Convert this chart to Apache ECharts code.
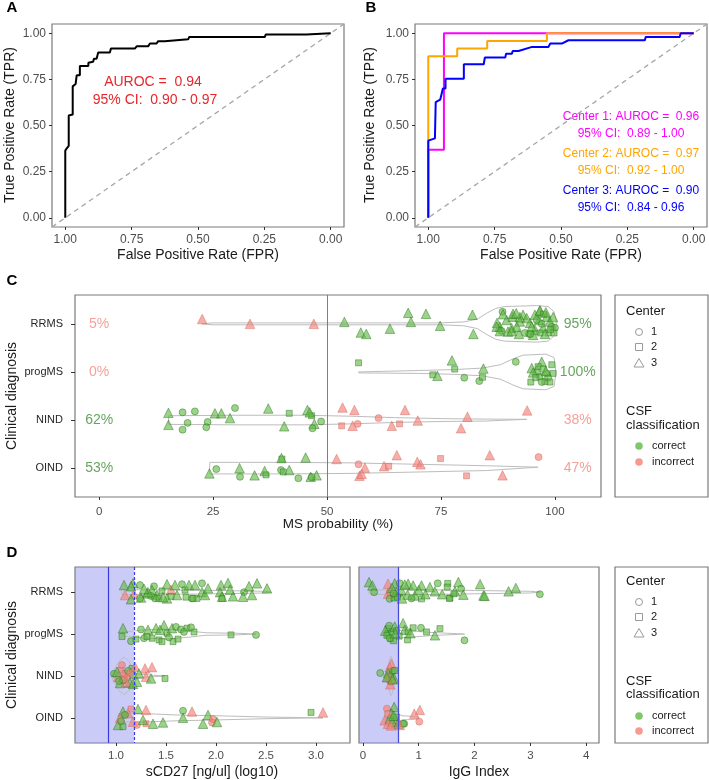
<!DOCTYPE html>
<html>
<head>
<meta charset="utf-8">
<script src="https://cdn.jsdelivr.net/npm/echarts@6/dist/echarts.min.js"></script>
<style>html,body{margin:0;padding:0;background:#fff}#main{width:709px;height:780px}</style>
</head>
<body>
<div id="main"></div>
<script>
// ---- data ----
var diagnoses = ['RRMS', 'progMS', 'NIND', 'OIND'];
var rocTicks = [0, 0.25, 0.5, 0.75, 1];
var probTicks = [0, 25, 50, 75, 100];
var cd27Ticks = [1.0, 1.5, 2.0, 2.5, 3.0];
var iggTicks = [0, 1, 2, 3, 4];

// ROC curves: [FPR axis value, TPR]
var rocAll = [[1,0],[1,0.364],[0.995,0.375],[0.987,0.39],[0.987,0.554],[0.972,0.56],[0.972,0.712],[0.961,0.725],[0.957,0.772],[0.945,0.772],[0.945,0.822],[0.913,0.822],[0.913,0.84],[0.895,0.845],[0.892,0.862],[0.882,0.862],[0.876,0.895],[0.832,0.895],[0.828,0.917],[0.738,0.917],[0.731,0.929],[0.688,0.929],[0.681,0.944],[0.656,0.944],[0.65,0.957],[0.625,0.957],[0.621,0.967],[0.537,0.967],[0.533,0.98],[0.248,0.98],[0.245,0.993],[0.092,0.993],[0.085,1],[0,1]];
var rocCenter1 = [[1,0],[1,0.368],[0.941,0.368],[0.941,1],[0,1]];
var rocCenter2 = [[1,0],[1,0.875],[0.891,0.875],[0.891,0.917],[0.778,0.917],[0.778,0.958],[0.553,0.958],[0.553,1],[0,1]];
var rocCenter3 = [[1,0],[1,0.418],[0.975,0.43],[0.972,0.627],[0.955,0.64],[0.945,0.7],[0.935,0.7],[0.935,0.754],[0.866,0.754],[0.866,0.832],[0.791,0.832],[0.787,0.868],[0.71,0.868],[0.707,0.889],[0.685,0.889],[0.682,0.904],[0.66,0.904],[0.609,0.926],[0.547,0.926],[0.541,0.944],[0.497,0.944],[0.472,0.962],[0.184,0.962],[0.181,0.98],[0.053,0.98],[0.049,1],[0,1]];
var aurocAll = ['AUROC =  0.94', '95% CI:  0.90 - 0.97'];
var aurocCenters = ['Center 1: AUROC =  0.96', '95% CI:  0.89 - 1.00', 'Center 2: AUROC =  0.97', '95% CI:  0.92 - 1.00', 'Center 3: AUROC =  0.90', '95% CI:  0.84 - 0.96'];

var pctLeft = ['5%', '0%', '62%', '53%'];
var pctRight = ['95%', '100%', '38%', '47%'];
var leftIsCorrect = [0, 0, 1, 1];
var probCut = 50;
var cd27Cut = 1.18, cd27Low = 0.92;
var iggCut = 0.63;

// points: [value, vertical jitter, center (1,2,3), correct (1/0)]
var probRRMS = [[22.6,-0.1,3,0],[33.1,0,3,0],[47.1,0,3,0],[53.8,-0.04,3,1],[57.4,0.18,3,1],[58.6,0.21,3,1],[63.8,0.1,3,1],[67.8,-0.23,3,1],[68.4,-0.04,3,1],[71.7,-0.21,3,1],[74.8,0.04,3,1],[81.9,-0.19,3,1],[82.1,0.21,3,1],[88.5,-0.25,1,1],[89.4,-0.08,3,1],[90.7,-0.15,3,1],[90.5,0.09,3,1],[92.1,0.21,3,1],[87.9,0.06,3,1],[87.3,-0.02,3,1],[88.3,0.15,1,1],[93,-0.19,3,1],[94.5,-0.02,3,1],[94.3,0.21,1,1],[95.6,-0.19,3,1],[96.7,-0.27,3,1],[96.5,-0.08,3,1],[98.2,-0.15,3,1],[98.9,-0.05,3,1],[99.3,0.06,1,1],[97.4,0.08,3,1],[95.6,0.12,3,1],[98.5,0.19,2,1],[97.8,0.21,3,1],[96.7,0.19,2,1],[100,0.08,1,1],[92.3,-0.05,3,1],[91.6,0.06,3,1],[96,-0.08,1,1],[93.8,-0.12,3,1],[94.9,0.06,3,1],[97.1,0,1,1],[99.6,-0.14,3,1],[99.8,0.19,2,1],[93.4,0.19,1,1],[95.2,0.23,3,1],[89.7,0.16,3,1],[88.6,-0.2,3,1],[90.8,-0.21,3,1],[92.3,-0.14,3,1],[96.7,-0.28,3,1],[87.2,0.06,3,1],[87.9,0.15,3,1],[90.5,0.15,3,1],[94.6,0.21,1,1],[97.5,-0.2,2,1],[99,0.12,2,1],[98,-0.24,3,1],[91.5,-0.22,3,1]];
var probProg = [[56.9,-0.19,2,1],[77.4,-0.24,3,1],[78,-0.06,2,1],[84.3,-0.07,3,1],[91.4,-0.21,1,1],[73.2,0.06,2,1],[74.2,0.08,3,1],[80.1,0.12,1,1],[83.4,0.19,1,1],[84.1,0.11,2,1],[94.7,0.21,2,1],[94.9,-0.08,3,1],[96,-0.04,3,1],[97.1,-0.21,3,1],[96.7,0.1,2,1],[97.8,0.2,2,1],[98.2,0.03,1,1],[99.3,-0.15,2,1],[99.6,0.03,2,1],[98.5,0.12,1,1],[95.2,0.01,3,1],[96.3,-0.11,2,1],[97.4,-0.06,1,1],[95.8,0.12,2,1],[98,-0.02,3,1],[98.9,0.21,2,1],[97.1,0.21,1,1]];
var probNIND = [[15.2,-0.15,3,1],[18.3,-0.16,1,1],[21,-0.18,1,1],[25.4,-0.14,3,1],[26.8,-0.14,3,1],[29.8,-0.25,1,1],[28.7,-0.04,3,1],[37.1,-0.24,3,1],[41.7,-0.14,2,1],[45.7,-0.21,3,1],[46.6,-0.09,2,1],[48.7,0.03,1,1],[15.2,0.1,3,1],[19.4,0.06,1,1],[18.3,0.2,1,1],[23.8,0.04,1,1],[23.5,0.15,1,1],[40.6,0.13,3,1],[47.2,0.08,3,1],[46.8,0.17,1,1],[46.2,-0.16,3,1],[53.4,-0.26,3,0],[56,-0.21,3,0],[53.2,0.12,2,0],[55.6,0.12,3,0],[56.7,0.08,1,0],[67.1,-0.21,3,0],[93.9,-0.2,3,0],[80.8,-0.07,3,0],[61.3,-0.04,1,0],[69.9,0.01,3,0],[65.9,0.08,2,0],[64.2,0.12,3,0],[79.4,0.17,3,0]];
var probOIND = [[24.2,0.11,3,1],[25.7,0.02,1,1],[30.8,0,3,1],[30.9,0.18,1,1],[34.1,0.15,3,1],[36.3,0.06,3,1],[36.6,0.14,2,1],[40.1,-0.19,2,1],[40,-0.21,3,1],[39.9,0.04,1,1],[40.4,0.08,2,1],[41.7,0.04,3,1],[43.7,0.21,1,1],[45.3,-0.22,3,1],[46.4,0.18,3,1],[47.7,0.15,3,1],[46.6,0.19,1,1],[52.1,-0.19,3,0],[56.9,-0.08,1,0],[57.1,0.16,3,0],[58.3,-0.01,3,0],[57.6,0.12,3,0],[65.3,-0.27,3,0],[62.5,-0.04,3,0],[63.5,-0.04,2,0],[69.8,-0.13,3,0],[70.5,-0.08,3,0],[74.9,-0.2,2,0],[80.6,0.16,2,0],[85.7,-0.27,3,0],[88.5,0.15,3,0],[96.4,-0.23,1,0]];

var cd27RRMS = [[1.08,-0.17,3,1],[1.17,-0.21,3,1],[1.24,-0.17,1,1],[1.09,0.07,3,0],[1.18,0.05,3,0],[1.15,0.17,3,1],[1.25,0.13,3,1],[1.31,0.03,3,1],[1.38,-0.14,1,1],[1.36,-0.05,3,1],[1.41,0.07,3,1],[1.46,-0.03,2,1],[1.39,0.15,1,1],[1.51,-0.19,3,1],[1.55,-0.06,3,0],[1.59,-0.17,3,1],[1.66,-0.19,1,1],[1.61,0.07,3,1],[1.51,0.15,3,1],[1.69,-0.05,2,1],[1.73,-0.17,3,1],[1.76,0.15,1,1],[1.81,0.15,2,1],[1.79,-0.17,3,1],[1.86,-0.21,1,1],[1.86,0,3,1],[1.89,0.07,3,1],[2.05,-0.17,3,1],[2.12,-0.22,3,1],[2.04,0,3,1],[2.06,0.11,3,1],[2.17,0.1,3,1],[2.28,0,1,1],[2.33,-0.14,3,1],[2.41,-0.21,3,1],[2.36,0.07,3,1],[2.51,-0.09,3,1],[1.77,0.15,2,1],[2.06,0.15,2,1],[1.43,0.15,2,1],[1.35,0.09,1,1],[1.15,-0.14,3,1],[1.32,0,3,1],[1.92,-0.09,3,1],[2.14,-0.06,3,1],[2.27,0.11,3,1],[1.24,0.15,1,1],[1.55,0.1,2,1],[1.47,0.12,3,1],[1.7,0.12,2,1],[1.28,-0.08,3,1]];
var cd27Prog = [[1.07,-0.14,3,1],[1.06,0.06,2,1],[1.15,0.17,1,1],[1.25,-0.11,1,1],[1.32,-0.1,3,1],[1.28,0.1,1,1],[1.36,0.1,2,1],[1.4,-0.14,3,1],[1.43,0.14,2,1],[1.48,-0.21,3,1],[1.51,-0.02,2,1],[1.56,-0.14,3,1],[1.57,0.18,2,1],[1.6,-0.17,1,1],[1.65,-0.11,1,1],[1.71,-0.14,2,1],[1.78,-0.05,2,1],[1.75,-0.16,1,1],[2.15,0.02,2,1],[2.4,0.02,1,1],[1.31,0.06,2,1],[1.46,0.18,2,1],[1.68,-0.05,1,1],[1.44,-0.1,3,1],[1.2,0.12,2,1],[1.53,0.08,1,1],[1.62,0.12,2,1]];
var cd27NIND = [[0.98,-0.05,1,1],[1.05,-0.14,2,0],[1.02,0.02,3,0],[1.09,-0.06,2,0],[1.11,0.03,1,0],[1.04,0.17,3,1],[1.14,0.16,3,1],[1.1,0.14,3,0],[1.17,-0.02,1,1],[1.16,-0.18,2,1],[1.19,-0.22,3,0],[1.29,-0.18,3,0],[1.36,-0.21,3,0],[1.23,-0.06,3,1],[1.3,0.02,3,0],[1.35,0.06,3,1],[1.49,0.06,2,1],[1.21,0.14,3,1],[1.07,0.11,1,1],[1.01,-0.1,3,1],[1.06,-0.26,1,0],[1.12,-0.12,1,1],[1.17,0.19,3,1],[1.14,-0.07,1,0],[1.08,0.08,2,0],[1.03,0.12,1,1]];
var cd27OIND = [[1.07,-0.15,3,1],[1.15,-0.21,2,0],[1.12,-0.11,3,0],[1.22,-0.21,3,1],[1.3,-0.19,3,0],[1.67,-0.17,1,1],[1.76,-0.15,3,0],[1.92,-0.07,3,1],[2.95,-0.13,2,1],[3.07,-0.13,3,0],[1.67,0,3,1],[1.87,0.14,3,1],[1.96,0.11,1,0],[1.97,0.03,1,0],[2.01,0.1,3,1],[1.02,0.17,3,1],[1.07,0.21,2,1],[1.04,0,3,0],[1.17,0.09,3,0],[1.21,0.17,1,0],[1.3,0.14,2,0],[1.37,0.14,3,1],[1.47,0.11,3,1],[1.27,0.05,3,1],[1.09,-0.07,1,1],[1.05,0.08,1,1]];

var iggRRMS = [[0.11,-0.24,3,1],[0.17,-0.16,3,1],[0.2,0,1,1],[0.45,-0.2,3,0],[0.45,0.04,3,0],[0.48,0,1,0],[0.48,0.16,1,1],[0.56,0.14,2,1],[0.57,-0.21,3,1],[0.66,-0.21,1,1],[0.6,0,3,1],[0.69,-0.04,3,1],[0.81,-0.2,3,1],[0.9,-0.16,3,1],[0.8,0.06,3,1],[0.93,0.08,3,1],[1.05,-0.16,3,1],[1.05,0.16,2,1],[1.2,-0.12,3,1],[1.34,-0.21,1,1],[1.29,-0.02,3,1],[1.52,-0.21,2,1],[1.42,0.05,3,1],[1.56,0.14,2,1],[1.71,-0.24,3,1],[1.76,-0.08,1,1],[1.8,0.06,3,1],[1.65,-0.02,3,1],[2.1,-0.19,3,1],[2.16,0.08,3,1],[2.61,-0.02,3,1],[2.74,-0.1,3,1],[3.17,0.05,1,1],[1.51,-0.12,2,1],[1.55,0.15,2,1],[0.87,0.15,1,1],[2.18,0.09,3,1],[1.63,0.04,2,1],[0.52,-0.1,3,1],[0.62,0.12,2,1],[0.75,-0.18,3,1],[1,-0.05,3,1],[0.7,0.15,3,1],[1.12,0.05,3,1],[0.55,0.03,1,1]];
var iggProg = [[0.45,-0.13,2,1],[0.45,-0.01,2,1],[0.52,-0.05,1,1],[0.57,-0.18,3,1],[0.5,0.11,2,1],[0.6,-0.08,1,1],[0.72,-0.26,3,1],[0.75,-0.1,3,1],[0.81,-0.05,2,1],[0.8,0.14,2,1],[0.9,-0.15,2,1],[1.04,-0.15,1,1],[1.14,-0.05,2,1],[1.38,-0.13,2,1],[1.29,0.03,3,1],[1.82,0.15,1,1],[0.4,-0.08,3,1],[0.43,0.03,2,1],[0.47,-0.2,1,1],[0.55,0.16,2,1],[0.65,0.05,2,1],[0.85,-0.02,3,1],[0.48,0.1,1,1],[0.58,-0.02,3,1]];
var iggNIND = [[0.31,-0.07,1,1],[0.48,-0.21,3,0],[0.45,-0.07,3,1],[0.5,-0.02,3,1],[0.54,-0.12,1,1],[0.45,0.02,3,0],[0.48,0.1,1,0],[0.56,0.06,3,1],[0.51,-0.29,3,0],[0.51,0.14,1,0],[0.43,0.03,3,1],[0.57,-0.13,2,1],[0.49,0.2,3,0],[0.53,0.08,3,1]];
var iggOIND = [[0.43,-0.22,1,0],[0.56,-0.26,3,1],[0.51,-0.1,3,1],[0.39,0.06,3,0],[0.48,0.02,3,1],[0.6,0.1,3,0],[0.74,0.14,1,1],[1.01,0.09,1,0],[1.02,-0.19,3,0],[0.92,-0.1,3,0],[0.72,0.14,1,1],[0.45,-0.1,1,0],[0.53,0.1,3,1],[0.45,0.14,3,0],[0.63,0.14,3,1],[0.6,-0.02,2,1],[0.5,0.18,3,0],[0.55,-0.05,3,1],[0.66,0.17,3,0]];

// violin outlines: [value, half width]
var vProbRRMS = [[22.5,0],[25,0.02],[75,0.02],[80,0.04],[83,0.1],[85,0.22],[87,0.32],[89,0.36],[96,0.38],[98.5,0.36],[99.8,0.25],[100.2,0.1],[100.3,0]];
var vProbProg = [[56.9,0],[57,0.02],[70,0.03],[78,0.05],[84,0.08],[88,0.15],[91,0.28],[93,0.35],[98,0.37],[99.8,0.3],[100.1,0.1],[100.2,0]];
var vProbNIND = [[15.2,0],[15.3,0.09],[30,0.1],[45,0.1],[55,0.08],[65,0.05],[75,0.03],[85,0.02],[93.8,0.015],[93.9,0]];
var vProbOIND = [[24.2,0],[24.3,0.12],[40,0.12],[55,0.11],[70,0.08],[85,0.05],[96.3,0.02],[96.4,0]];
var vCd27RRMS = [[1.05,0],[1.06,0.06],[1.6,0.05],[2,0.04],[2.5,0.02],[2.55,0]];
var vCd27Prog = [[1.06,0],[1.07,0.05],[1.3,0.1],[1.5,0.12],[1.7,0.08],[1.9,0.03],[2.2,0.02],[2.4,0]];
var vCd27NIND = [[0.95,0],[0.98,0.15],[1.03,0.35],[1.08,0.45],[1.13,0.35],[1.17,0.15],[1.2,0.05],[1.3,0.03],[1.49,0]];
var vCd27OIND = [[1.02,0],[1.03,0.1],[1.3,0.1],[1.6,0.07],[2,0.05],[2.5,0.02],[3.07,0]];
var vIggRRMS = [[0.1,0],[0.12,0.05],[1,0.06],[2,0.04],[3,0.02],[3.17,0]];
var vIggProg = [[0.4,0],[0.42,0.08],[0.6,0.1],[0.9,0.07],[1.2,0.04],[1.5,0.02],[1.82,0]];
var vIggNIND = [[0.42,0],[0.45,0.2],[0.48,0.4],[0.5,0.47],[0.53,0.4],[0.56,0.2],[0.59,0]];
var vIggOIND = [[0.39,0],[0.4,0.15],[0.5,0.2],[0.6,0.12],[0.7,0.05],[0.85,0.04],[1,0.03],[1.02,0]];

// ---- styling ----
var FONT = '"Liberation Sans", Arial, sans-serif';
var GREEN = 'rgba(94,185,66,0.78)', GREEN_EDGE = 'rgba(35,105,25,0.9)';
var RED = 'rgba(245,130,120,0.82)', RED_EDGE = 'rgba(200,95,90,0.85)';
var GREEN_TXT = '#3f8f35', RED_TXT = '#f08a80';
var shapes = ['circle', 'rect', 'triangle'];
var sizes = [7, 6, 9.5];

var chart = echarts.init(document.getElementById('main'));

function points(list, row) {
  return list.map(function (p) {
    return {
      value: [p[0], row + p[1]],
      symbol: shapes[p[2] - 1],
      symbolSize: sizes[p[2] - 1],
      itemStyle: p[3] ? {color: GREEN, borderColor: GREEN_EDGE, borderWidth: 0.6}
                      : {color: RED, borderColor: RED_EDGE, borderWidth: 0.6}
    };
  });
}
function violin(outline, row) {
  var top = outline.map(function (p) { return [p[0], row - p[1]]; });
  var bottom = outline.slice().reverse().map(function (p) { return [p[0], row + p[1]]; });
  return top.concat(bottom);
}

function numAxis(gi, min, max, ticks, fmt, o) {
  o = o || {};
  return {
    type: 'value', gridIndex: gi, min: min, max: max, inverse: !!o.inverse,
    axisLine: {show: false, onZero: false},
    axisTick: {show: o.noTick ? false : true, length: o.tickLen || 3, lineStyle: {color: '#333', width: 1}, customValues: ticks},
    axisLabel: {show: o.noLabel ? false : true, customValues: ticks, formatter: fmt, color: o.labelColor || '#4d4d4d',
      fontSize: o.fontSize || 12, margin: o.margin || 6, fontFamily: FONT},
    splitLine: {show: false}
  };
}
function fmt2(v) { return v.toFixed(2); }
function fmt1(v) { return v.toFixed(1); }
function fmt0(v) { return String(Math.round(v)); }
function fmtDiag(v) { return diagnoses[Math.round(v) - 1]; }

var gridBase = {show: true, borderColor: '#7a7a7a', borderWidth: 1.2, containLabel: false};
var grids = [
  Object.assign({left: 52, top: 24, width: 292, height: 203}, gridBase),
  Object.assign({left: 415, top: 24, width: 292, height: 203}, gridBase),
  Object.assign({left: 75, top: 295, width: 526, height: 202}, gridBase),
  Object.assign({left: 75, top: 567, width: 275, height: 176}, gridBase),
  Object.assign({left: 359, top: 567, width: 240, height: 176}, gridBase)
];

var xAxes = [
  numAxis(0, -0.05, 1.05, rocTicks, fmt2, {inverse: true, margin: 7}),
  numAxis(1, -0.05, 1.05, rocTicks, fmt2, {inverse: true, margin: 7}),
  numAxis(2, -5.3, 110.1, probTicks, fmt0, {margin: 9, fontSize: 11.5}),
  numAxis(3, 0.59, 3.34, cd27Ticks, fmt1, {margin: 7, fontSize: 11.5}),
  numAxis(4, -0.07, 4.23, iggTicks, fmt0, {margin: 7, fontSize: 11.5})
];
var catOpts = {inverse: true, margin: 12, tickLen: 4, fontSize: 11, labelColor: '#262626'};
var yAxes = [
  numAxis(0, -0.05, 1.05, rocTicks, fmt2, {margin: 6}),
  numAxis(1, -0.05, 1.05, rocTicks, fmt2, {margin: 6}),
  numAxis(2, 0.4, 4.6, [1, 2, 3, 4], fmtDiag, catOpts),
  numAxis(3, 0.4, 4.6, [1, 2, 3, 4], fmtDiag, catOpts),
  numAxis(4, 0.4, 4.6, [1, 2, 3, 4], fmtDiag, {inverse: true, noTick: true, noLabel: true})
];

var series = [];
function lineS(gi, data, color, width, extra) {
  var s = {
    type: 'line', xAxisIndex: gi, yAxisIndex: gi, data: data, showSymbol: false, symbol: 'none',
    silent: true, lineStyle: {color: color, width: width}, z: 2
  };
  return Object.assign(s, extra || {});
}
// diagonal references
[0, 1].forEach(function (gi) {
  series.push(lineS(gi, [[1.05, -0.05], [-0.05, 1.05]], '#a6a6a6', 1.3, {lineStyle: {color: '#a6a6a6', width: 1.3, type: [5, 4]}}));
});
series.push(lineS(0, rocAll, '#000', 2));
series.push(lineS(1, rocCenter1, '#ff00ff', 2));
series.push(lineS(1, rocCenter2, '#ffa500', 2));
series.push(lineS(1, rocCenter3, '#0000ff', 2));

function panel(gi, groups, outlines, marks) {
  outlines.forEach(function (o, i) {
    var s = lineS(gi, violin(o, i + 1), '#bdbdbd', 1);
    if (i === 0 && marks) Object.assign(s, marks);
    series.push(s);
  });
  var data = [];
  groups.forEach(function (g, i) { data = data.concat(points(g, i + 1)); });
  series.push({type: 'scatter', xAxisIndex: gi, yAxisIndex: gi, data: data, silent: true, z: 3});
}

panel(2, [probRRMS, probProg, probNIND, probOIND], [vProbRRMS, vProbProg, vProbNIND, vProbOIND], {
  markLine: {silent: true, symbol: 'none', label: {show: false},
    lineStyle: {color: '#6e6ef0', width: 1, type: 'solid'}, data: [{xAxis: probCut}]}
});
panel(3, [cd27RRMS, cd27Prog, cd27NIND, cd27OIND], [vCd27RRMS, vCd27Prog, vCd27NIND, vCd27OIND], {
  markArea: {silent: true, label: {show: false}, itemStyle: {color: 'rgba(125,125,235,0.4)'},
    data: [[{xAxis: 0.59}, {xAxis: cd27Cut}]]},
  markLine: {silent: true, symbol: 'none', label: {show: false},
    data: [{xAxis: cd27Low, lineStyle: {color: '#3a3ae0', width: 1.2, type: 'solid'}},
           {xAxis: cd27Cut, lineStyle: {color: '#3a3ae0', width: 1.2, type: [3, 2]}}]}
});
panel(4, [iggRRMS, iggProg, iggNIND, iggOIND], [vIggRRMS, vIggProg, vIggNIND, vIggOIND], {
  markArea: {silent: true, label: {show: false}, itemStyle: {color: 'rgba(125,125,235,0.4)'},
    data: [[{xAxis: -0.07}, {xAxis: iggCut}]]},
  markLine: {silent: true, symbol: 'none', label: {show: false},
    data: [{xAxis: iggCut, lineStyle: {color: '#4a4ad8', width: 1.3, type: 'solid'}}]}
});

// percentage labels in panel C
var pctData = [];
diagnoses.forEach(function (d, i) {
  var lc = leftIsCorrect[i] ? GREEN_TXT : RED_TXT;
  var rc = leftIsCorrect[i] ? RED_TXT : GREEN_TXT;
  pctData.push({value: [0, i + 1], label: {formatter: pctLeft[i], color: lc}});
  pctData.push({value: [105, i + 1], label: {formatter: pctRight[i], color: rc}});
});
series.push({type: 'scatter', xAxisIndex: 2, yAxisIndex: 2, data: pctData, symbolSize: 1, silent: true,
  itemStyle: {color: 'rgba(0,0,0,0)'},
  label: {show: true, position: 'inside', fontSize: 14, fontFamily: FONT}});

// ---- text & legends ----
var graphics = [];
function txt(x, y, s, size, color, o) {
  o = o || {};
  graphics.push({
    type: 'text', x: x, y: y, rotation: o.rot || 0, silent: true,
    style: {text: s, fontSize: size, fontFamily: FONT, fontWeight: o.bold ? 'bold' : 'normal', fill: color,
      align: o.align || 'center', verticalAlign: 'middle', textAlign: o.align || 'center', textVerticalAlign: 'middle'}
  });
}
txt(12, 8, 'A', 15, '#000', {bold: true});
txt(371, 8, 'B', 15, '#000', {bold: true});
txt(12, 281, 'C', 15, '#000', {bold: true});
txt(12, 553, 'D', 15, '#000', {bold: true});

txt(153, 82, aurocAll[0], 14, '#e8262b');
txt(155, 100, aurocAll[1], 14, '#e8262b');
var bColors = ['#ff00ff', '#ff00ff', '#ffa500', '#ffa500', '#0000ff', '#0000ff'];
var bY = [117, 134, 154, 171, 191, 208];
aurocCenters.forEach(function (s, i) { txt(631, bY[i], s, 12, bColors[i]); });

txt(198, 255, 'False Positive Rate (FPR)', 14, '#1a1a1a');
txt(561, 255, 'False Positive Rate (FPR)', 14, '#1a1a1a');
txt(10, 125, 'True Positive Rate (TPR)', 14, '#1a1a1a', {rot: Math.PI / 2});
txt(370, 125, 'True Positive Rate (TPR)', 14, '#1a1a1a', {rot: Math.PI / 2});
txt(338, 524, 'MS probability (%)', 13.5, '#1a1a1a');
txt(12, 396, 'Clinical diagnosis', 14, '#1a1a1a', {rot: Math.PI / 2});
txt(212, 772, 'sCD27 [ng/ul] (log10)', 14, '#1a1a1a');
txt(479, 772, 'IgG Index', 14, '#1a1a1a');
txt(12, 655, 'Clinical diagnosis', 14, '#1a1a1a', {rot: Math.PI / 2});

function legend(top, height, ys) {
  graphics.push({type: 'rect', silent: true, shape: {x: 615, y: top, width: 93, height: height},
    style: {fill: 'none', stroke: '#7a7a7a', lineWidth: 1.2}});
  txt(626, ys[0], 'Center', 13, '#1a1a1a', {align: 'left'});
  var gray = {fill: 'none', stroke: '#9a9a9a', lineWidth: 1};
  graphics.push({type: 'circle', silent: true, shape: {cx: 639, cy: ys[1], r: 3.5}, style: gray});
  graphics.push({type: 'rect', silent: true, shape: {x: 635.5, y: ys[2] - 3.5, width: 7, height: 7}, style: gray});
  graphics.push({type: 'polygon', silent: true, shape: {points: [[639, ys[3] - 4.5], [644, ys[3] + 4], [634, ys[3] + 4]]}, style: gray});
  ['1', '2', '3'].forEach(function (s, i) { txt(651, ys[i + 1], s, 11, '#1a1a1a', {align: 'left'}); });
  txt(626, ys[4], 'CSF', 13, '#1a1a1a', {align: 'left'});
  txt(626, ys[5], 'classification', 13, '#1a1a1a', {align: 'left'});
  graphics.push({type: 'circle', silent: true, shape: {cx: 639, cy: ys[6], r: 3.8}, style: {fill: GREEN}});
  graphics.push({type: 'circle', silent: true, shape: {cx: 639, cy: ys[7], r: 3.8}, style: {fill: RED}});
  txt(652, ys[6], 'correct', 11, '#1a1a1a', {align: 'left'});
  txt(652, ys[7], 'incorrect', 11, '#1a1a1a', {align: 'left'});
}
legend(295, 202, [311, 332, 347, 363, 411, 425, 446, 462]);
legend(567, 176, [581, 602, 617, 633, 681, 694, 716, 731]);

chart.setOption({
  animation: false,
  backgroundColor: '#fff',
  textStyle: {fontFamily: FONT},
  grid: grids,
  xAxis: xAxes,
  yAxis: yAxes,
  series: series,
  graphic: graphics
});
</script>
</body>
</html>
